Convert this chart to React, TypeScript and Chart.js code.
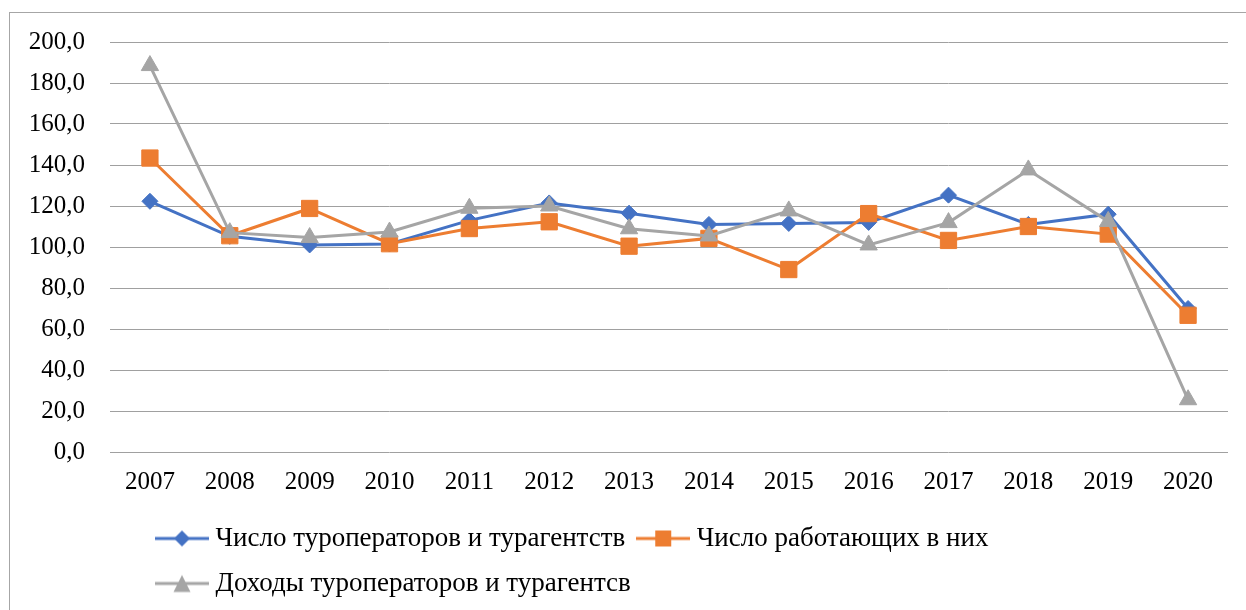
import React, { useEffect, useRef } from 'react';
import { Chart, registerables } from 'chart.js';

Chart.register(...registerables);

const years = ['2007', '2008', '2009', '2010', '2011', '2012', '2013', '2014', '2015', '2016', '2017', '2018', '2019', '2020'];
const operatorsCount = [122.3, 105.2, 101.0, 101.5, 113.0, 121.5, 116.5, 111.0, 111.5, 112.0, 125.3, 111.0, 116.0, 70.0];
const employeesCount = [143.4, 105.5, 118.8, 101.6, 109.0, 112.3, 100.4, 104.2, 89.0, 116.3, 103.2, 110.0, 106.3, 66.7];
const operatorsIncome = [188.5, 107.0, 104.6, 107.3, 118.9, 120.0, 108.9, 105.4, 117.6, 101.0, 111.9, 137.6, 112.5, 25.5];
const seriesNames = [
  'Число туроператоров и турагентств',
  'Число работающих в них',
  'Доходы туроператоров и турагентсв',
];
const seriesColors = ['#4472C4', '#ED7D31', '#A5A5A5'];

const FONT = "'Liberation Serif', 'Times New Roman', serif";

function makeIcon(color: string, kind: string): HTMLCanvasElement {
  const c = document.createElement('canvas');
  c.width = 54;
  c.height = 24;
  const ctx = c.getContext('2d')!;
  const cy = 12;
  const cx = 27;
  ctx.strokeStyle = color;
  ctx.lineWidth = 3;
  ctx.beginPath();
  ctx.moveTo(0, cy);
  ctx.lineTo(54, cy);
  ctx.stroke();
  ctx.fillStyle = color;
  ctx.beginPath();
  if (kind === 'diamond') {
    const r = 8;
    ctx.moveTo(cx, cy - r);
    ctx.lineTo(cx + r, cy);
    ctx.lineTo(cx, cy + r);
    ctx.lineTo(cx - r, cy);
  } else if (kind === 'square') {
    const s = 8;
    ctx.rect(cx - s, cy - s, 2 * s, 2 * s);
  } else {
    const h = 8.5;
    ctx.moveTo(cx, cy - h);
    ctx.lineTo(cx + h, cy + h);
    ctx.lineTo(cx - h, cy + h);
  }
  ctx.closePath();
  ctx.fill();
  return c;
}

const LEGEND_LEFT = 134;
const LEGEND_TOP = 494;

const legendShift = {
  id: 'legendShift',
  afterLayout(chart: any) {
    const lg = chart.legend;
    if (!lg) return;
    const w = lg.right - lg.left;
    const h = lg.bottom - lg.top;
    lg.left = LEGEND_LEFT;
    lg.right = LEGEND_LEFT + w;
    lg.top = LEGEND_TOP;
    lg.bottom = LEGEND_TOP + h;
  },
};

export default function App() {
  const ref = useRef<HTMLCanvasElement>(null);

  useEffect(() => {
    if (!ref.current) return;
    const icons = [
      makeIcon(seriesColors[0], 'diamond'),
      makeIcon(seriesColors[1], 'square'),
      makeIcon(seriesColors[2], 'triangle'),
    ];
    const chart = new Chart(ref.current, {
      type: 'line',
      data: {
        labels: years,
        datasets: [
          {
            label: seriesNames[0],
            data: operatorsCount,
            borderColor: seriesColors[0],
            backgroundColor: seriesColors[0],
            borderWidth: 3,
            pointStyle: 'rectRot',
            pointRadius: 8,
            pointBorderWidth: 1,
            pointBackgroundColor: seriesColors[0],
            pointBorderColor: seriesColors[0],
            order: 2,
          },
          {
            label: seriesNames[1],
            data: employeesCount,
            borderColor: seriesColors[1],
            backgroundColor: seriesColors[1],
            borderWidth: 3,
            pointStyle: 'rect',
            pointRadius: 11.5,
            pointBorderWidth: 1,
            pointBackgroundColor: seriesColors[1],
            pointBorderColor: seriesColors[1],
            order: 1,
          },
          {
            label: seriesNames[2],
            data: operatorsIncome,
            borderColor: seriesColors[2],
            backgroundColor: seriesColors[2],
            borderWidth: 3,
            pointStyle: 'triangle',
            pointRadius: 10,
            pointBorderWidth: 1,
            pointBackgroundColor: seriesColors[2],
            pointBorderColor: seriesColors[2],
            order: 0,
          },
        ],
      },
      options: {
        responsive: false,
        animation: false,
        devicePixelRatio: 1,
        layout: { padding: { left: 0, right: 18, top: 29, bottom: 0 } },
        scales: {
          x: {
            offset: true,
            grid: { display: false, drawTicks: false },
            border: { display: false },
            ticks: { color: '#000', font: { family: FONT, size: 25 }, padding: 15, maxRotation: 0, autoSkip: false },
            afterFit: (s: any) => { s.height = 58; },
          },
          y: {
            min: 0,
            max: 200,
            grid: { color: '#a0a0a0', lineWidth: 1, drawTicks: false },
            border: { display: false },
            ticks: {
              stepSize: 20,
              color: '#000',
              font: { family: FONT, size: 25 },
              padding: 25,
              callback: (v: any) => Number(v).toFixed(1).replace('.', ','),
            },
            afterFit: (s: any) => {
              s.width = 100;
              s.paddingTop = 15;
              s.paddingBottom = 15;
            },
          },
        },
        plugins: {
          tooltip: { enabled: false },
          legend: {
            position: 'bottom',
            align: 'start',
            labels: {
              usePointStyle: true,
              pointStyleWidth: 40,
              padding: 18,
              color: '#000',
              font: { family: FONT, size: 27 },
              generateLabels: (ch: any) =>
                ch.data.datasets.map((ds: any, i: number) => ({
                  text: ds.label,
                  fillStyle: ds.borderColor,
                  strokeStyle: ds.borderColor,
                  lineWidth: 0,
                  pointStyle: icons[i],
                  hidden: false,
                  datasetIndex: i,
                  fontColor: '#000',
                })),
            },
          },
        },
      },
      plugins: [legendShift],
    } as any);
    return () => chart.destroy();
  }, []);

  return (
    <div
      style={{
        position: 'absolute',
        left: 9,
        top: 12,
        width: 1250,
        height: 620,
        border: '1px solid #a6a6a6',
        background: '#fff',
      }}
    >
      <canvas ref={ref} width={1236} height={597} style={{ display: 'block' }} />
    </div>
  );
}
